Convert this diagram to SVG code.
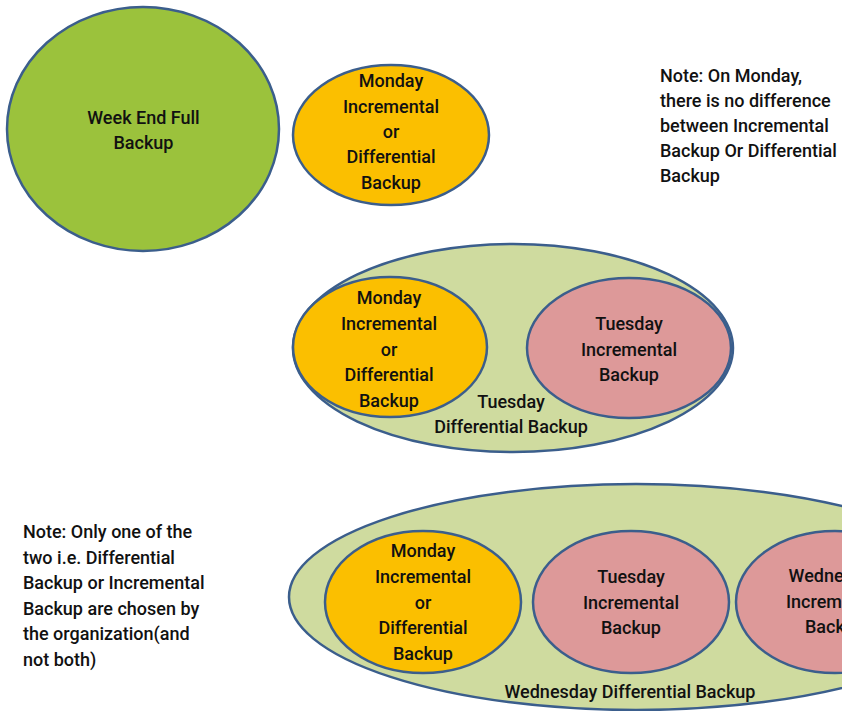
<svg xmlns="http://www.w3.org/2000/svg" width="842" height="711" viewBox="0 0 842 711">
<style>
.s{stroke:#3b5e8c;stroke-width:2.5}
.full{fill:#9bc23c}
.mon{fill:#fbbf00}
.inc{fill:#dd9999}
.diff{fill:#cfdb9f}
text{font-family:Roboto,"Liberation Sans",Arial,sans-serif;font-weight:500;font-size:18px;fill:#111}
.c{text-anchor:middle}
</style>
<rect width="842" height="711" fill="#ffffff"/>
<g id="weekend-full">
<ellipse class="s full" cx="143" cy="129" rx="136" ry="122"/>
<text class="c" x="143.5" y="124">Week End Full</text>
<text class="c" x="143.5" y="149">Backup</text>
</g>
<g id="monday-top">
<ellipse class="s mon" cx="391" cy="135" rx="98" ry="70"/>
<text class="c" x="391" y="87">Monday</text>
<text class="c" x="391" y="112.5">Incremental</text>
<text class="c" x="391" y="138">or</text>
<text class="c" x="391" y="163">Differential</text>
<text class="c" x="391" y="188.5">Backup</text>
</g>
<g id="note-monday">
<text x="660" y="82">Note: On Monday,</text>
<text x="660" y="107">there is no difference</text>
<text x="660" y="132">between Incremental</text>
<text x="660" y="157">Backup Or Differential</text>
<text x="660" y="182">Backup</text>
</g>
<g id="tuesday-differential">
<ellipse class="s diff" cx="513" cy="348" rx="220" ry="104"/>
<text class="c" x="511" y="408">Tuesday</text>
<text class="c" x="511" y="433">Differential Backup</text>
</g>
<g id="tuesday-monday">
<ellipse class="s mon" cx="390" cy="347" rx="97" ry="70"/>
<text class="c" x="389" y="304">Monday</text>
<text class="c" x="389" y="330">Incremental</text>
<text class="c" x="389" y="355.5">or</text>
<text class="c" x="389" y="381">Differential</text>
<text class="c" x="389" y="407">Backup</text>
</g>
<g id="tuesday-incremental">
<ellipse class="s inc" cx="629" cy="348" rx="102" ry="70"/>
<text class="c" x="629" y="330">Tuesday</text>
<text class="c" x="629" y="356">Incremental</text>
<text class="c" x="629" y="381">Backup</text>
</g>
<g id="wednesday-differential">
<ellipse class="s diff" cx="636" cy="597" rx="347" ry="113"/>
<text class="c" x="630" y="698">Wednesday Differential Backup</text>
</g>
<g id="wednesday-monday">
<ellipse class="s mon" cx="423" cy="602" rx="98" ry="71"/>
<text class="c" x="423" y="557">Monday</text>
<text class="c" x="423" y="583">Incremental</text>
<text class="c" x="423" y="608.5">or</text>
<text class="c" x="423" y="634">Differential</text>
<text class="c" x="423" y="660">Backup</text>
</g>
<g id="wednesday-tuesday">
<ellipse class="s inc" cx="631" cy="602" rx="98" ry="71"/>
<text class="c" x="631" y="583">Tuesday</text>
<text class="c" x="631" y="609">Incremental</text>
<text class="c" x="631" y="634">Backup</text>
</g>
<g id="wednesday-incremental">
<ellipse class="s inc" cx="835" cy="602" rx="99" ry="71"/>
<text class="c" x="835" y="582">Wednesday</text>
<text class="c" x="834" y="608">Incremental</text>
<text class="c" x="835" y="633">Backup</text>
</g>
<g id="note-choice">
<text x="23" y="538">Note: Only one of the</text>
<text x="23" y="563.5">two i.e. Differential</text>
<text x="23" y="589">Backup or Incremental</text>
<text x="23" y="614.5">Backup are chosen by</text>
<text x="23" y="640">the organization(and</text>
<text x="23" y="665.5">not both)</text>
</g>
<g id="connectors"/>
</svg>
